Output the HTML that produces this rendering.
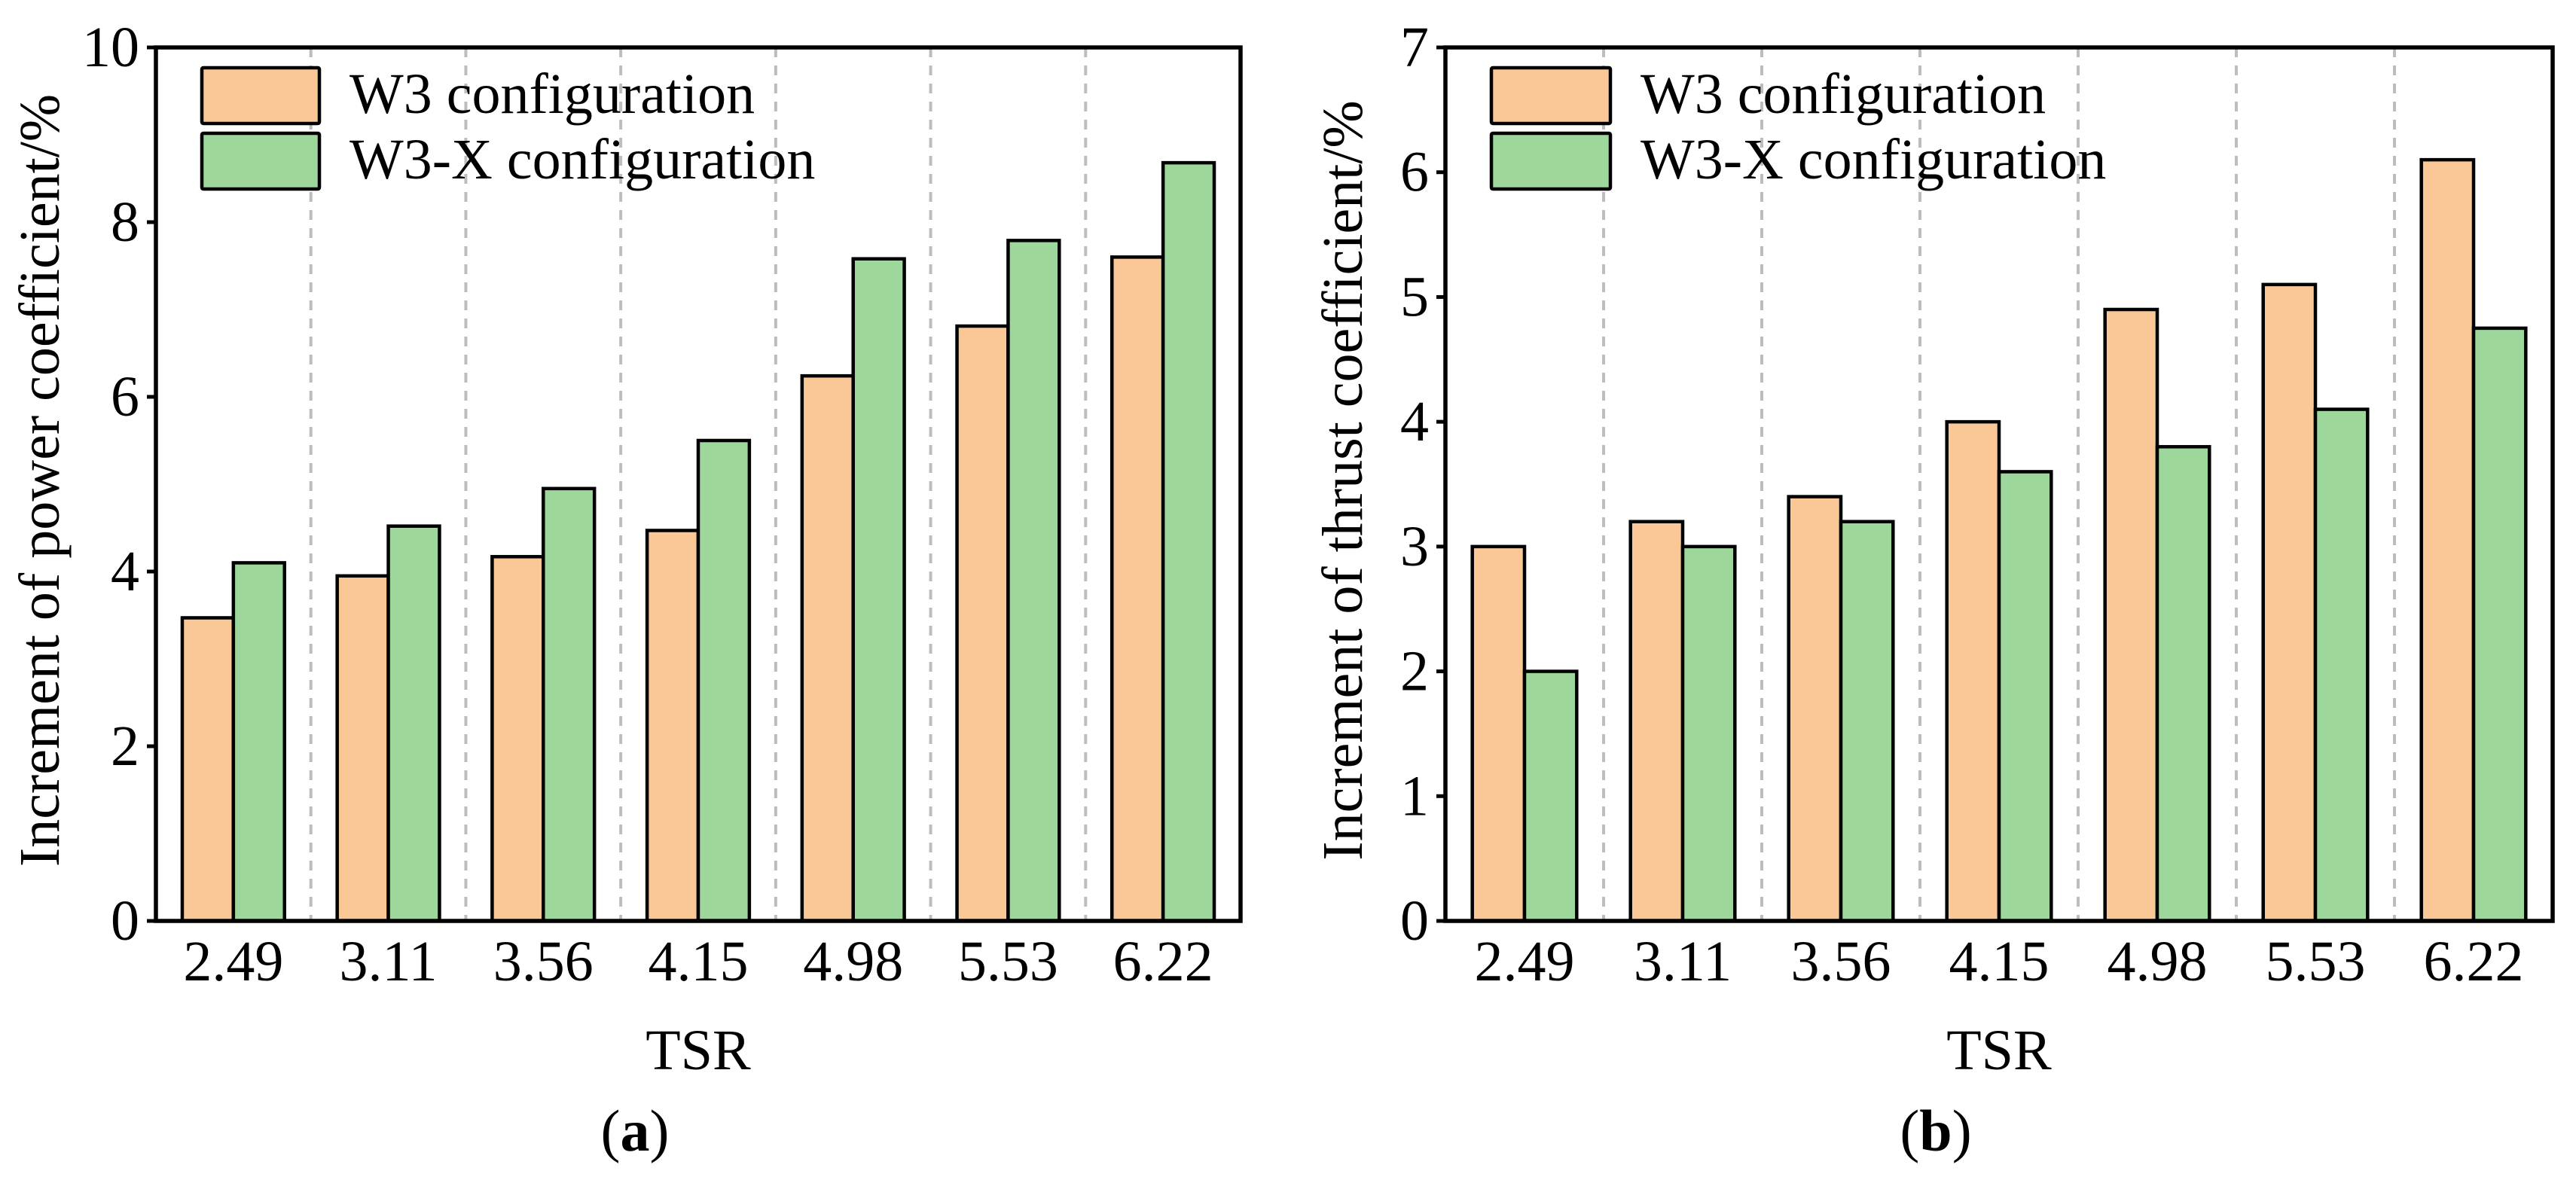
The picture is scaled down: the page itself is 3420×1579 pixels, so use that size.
<!DOCTYPE html>
<html><head><meta charset="utf-8"><style>
html,body{margin:0;padding:0;background:#fff;}
svg, svg text{font-family:"Liberation Serif","Times New Roman","DejaVu Serif",serif;}
</style></head><body>
<svg id="fig" width="3420" height="1574" viewBox="0 0 3420 1574" xmlns="http://www.w3.org/2000/svg" font-family="Liberation Serif, serif"></svg>
<script>
const categories = ["2.49","3.11","3.56","4.15","4.98","5.53","6.22"];
const powerW3 = [3.47,3.95,4.17,4.47,6.24,6.81,7.6];
const powerW3X = [4.1,4.52,4.95,5.5,7.58,7.79,8.68];
const thrustW3 = [3.0,3.2,3.4,4.0,4.9,5.1,6.1];
const thrustW3X = [2.0,3.0,3.2,3.6,3.8,4.1,4.75];
const powerTicks = [0,2,4,6,8,10];
const thrustTicks = [0,1,2,3,4,5,6,7];
const seriesNames = ["W3 configuration","W3-X configuration"];

const NS="http://www.w3.org/2000/svg";
const svg=document.getElementById('fig');
const FF='"Liberation Serif", "Times New Roman", serif';
function mk(tag,attrs,parent){const e=document.createElementNS(NS,tag);for(const k in attrs)e.setAttribute(k,attrs[k]);if(tag==='text')e.style.fontFamily=FF;(parent||svg).appendChild(e);return e;}

function chart(cfg){
  const g=mk('g',{});
  
  
  const {L,R,T,B,ymax}=cfg;
  const y=v=>B-(v/ymax)*(B-T);
  const bw=(R-L)/categories.length;
  const x=i=>L+bw*i;
  for(let i=1;i<categories.length;i++){
    const s=mk('line',{x1:x(i),x2:x(i),y1:T,y2:B,stroke:'#bdbdbd','stroke-width':4,'stroke-dasharray':'13 11'},g);
    
    
  }
  const barW=bw*0.33;
  categories.forEach((c,i)=>{
    const cx=x(i)+bw/2;
    [[cfg.a,'#fac896',0],[cfg.b,'#9dd79c',1]].forEach(([arr,col,k])=>{
      const x0=k===0?cx-barW:cx;
      const r=mk('rect',{x:x0,y:y(arr[i]),width:barW,height:B-y(arr[i]),fill:col,stroke:'#000','stroke-width':4.5},g);
      
      
    });
    const t=mk('text',{x:cx,y:1302,'font-size':76,'text-anchor':'middle'},g);
    t.textContent=c;
    
    
  });
  cfg.ticks.forEach(v=>{
    mk('line',{x1:L-12,x2:L,y1:y(v),y2:y(v),stroke:'#000','stroke-width':5},g);
    const t=mk('text',{x:L-22,y:y(v)+25,'font-size':76,'text-anchor':'end'},g);
    t.textContent=v;
    
    
  });
  const f=mk('rect',{x:L,y:T,width:R-L,height:B-T,fill:'none',stroke:'#000','stroke-width':5.5},g);
  
  
  const lx=cfg.legX;
  [[90,'#fac896'],[177,'#9dd79c']].forEach(([ly,col],k)=>{
    const r=mk('rect',{x:lx,y:ly,width:cfg.legW,height:74,fill:col,stroke:'#000','stroke-width':4.5,rx:2},g);
    
    
    const t=mk('text',{x:lx+cfg.legW+40,y:ly+60,'font-size':76},g);
    t.textContent=seriesNames[k];
    
    
  });
  const yt=mk('text',{x:0,y:0,'font-size':76,'text-anchor':'middle',transform:`translate(${cfg.ytX},${(T+B)/2-5}) rotate(-90)`},g);
  yt.textContent=cfg.ytitle;
  
  
  const xt=mk('text',{x:(L+R)/2,y:1420,'font-size':76,'text-anchor':'middle'},g);
  xt.textContent='TSR';
  
  
  const cap=mk('text',{x:(L+R)/2-84,y:1528,'font-size':78,'text-anchor':'middle'},g);
  cap.innerHTML='(<tspan font-weight="bold">'+cfg.letter+'</tspan>)';
  
  
}
chart({name:'power-chart',L:207,R:1647,T:63,B:1223,ymax:10,a:powerW3,b:powerW3X,ticks:powerTicks,legX:268,legW:156,ytX:78,ytitle:'Increment of power coefficient/%',letter:'a'});
chart({name:'thrust-chart',L:1919,R:3389,T:63,B:1223,ymax:7,a:thrustW3,b:thrustW3X,ticks:thrustTicks,legX:1980,legW:158,ytX:1808,ytitle:'Increment of thrust coefficient/%',letter:'b'});
</script>
</body></html>
